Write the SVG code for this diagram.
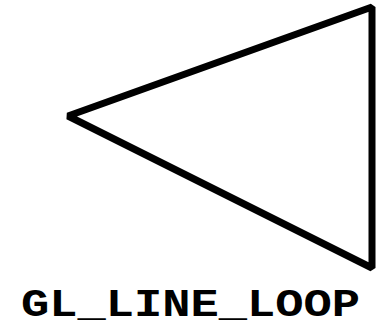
<svg xmlns="http://www.w3.org/2000/svg" width="380" height="331" viewBox="0 0 380 331">
<style>
.shape{fill:none;stroke:#000;stroke-width:7;stroke-linejoin:bevel}
.lbl{font-family:"Liberation Mono","Courier New",monospace;font-weight:bold;font-size:38px;fill:#000}
</style>
<rect width="380" height="331" fill="#fff"/>
<g id="connectors">
<polygon id="loop" class="shape" points="68,116 372,7 372,268"/>
</g>
<g id="label">
<text class="lbl" x="21" y="316" textLength="339" lengthAdjust="spacingAndGlyphs">GL_LINE_LOOP</text>
</g>
</svg>
